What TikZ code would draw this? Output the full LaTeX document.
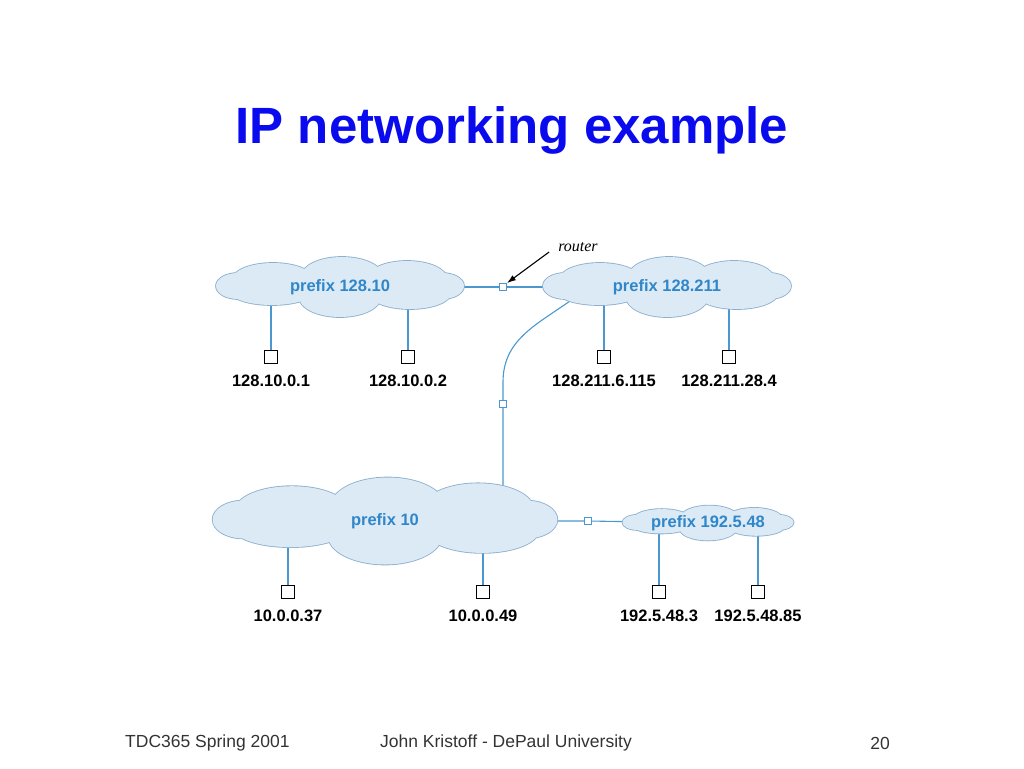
\documentclass[tikz,border=0pt]{standalone}
\usepackage{fontspec}
\setmainfont{Liberation Sans}
\newfontfamily\routerfont{Liberation Serif}
\usetikzlibrary{arrows.meta,positioning,backgrounds}
\definecolor{netFill}{HTML}{DCEAF6}
\definecolor{netEdge}{HTML}{8DAFCF}
\definecolor{netText}{HTML}{2F86C8}
\definecolor{linkBlue}{HTML}{4A98CF}
\definecolor{titleBlue}{HTML}{0A0AEE}
\definecolor{footInk}{HTML}{333333}
\pgfdeclarelayer{links}
\pgfsetlayers{links,background,main}
% puffs of one cloud, drawn 248 wide and 60 high round its centre
\newcommand{\puffs}{(-67,-7) ellipse [x radius=41, y radius=17]
  (2,-10) ellipse [x radius=41, y radius=20]
  (67,-8) ellipse [x radius=40, y radius=18]
  (-68,5) ellipse [x radius=41, y radius=13]
  (0,10) ellipse [x radius=41, y radius=20]
  (70,6) ellipse [x radius=41, y radius=16]
  (-102,-1) ellipse [x radius=22, y radius=13]
  (102,-1) ellipse [x radius=22, y radius=13]
  (0,0) ellipse [x radius=95, y radius=14]}
\newcommand{\netcloud}[3]{% node, x scale, y scale
  \begin{scope}[shift={(#1.center)}, xscale=#2, yscale=#3]
    \draw[draw=netEdge, line width=1.7pt] \puffs;
    \fill[netFill] \puffs;
  \end{scope}}

\begin{document}
\begin{tikzpicture}[
  x=1pt, y=-1pt,
  >=Latex,
  net/.style={inner sep=0pt, text=netText, font=\fontsize{16.5}{18}\selectfont\bfseries},
  host/.style={draw=black, fill=white, line width=.9pt, minimum size=13pt, inner sep=0pt},
  rtr/.style={draw=linkBlue, fill=white, line width=.8pt, minimum size=7pt, inner sep=0pt},
  addr/.style={inner sep=0pt, font=\fontsize{16.5}{18}\selectfont\bfseries},
  link/.style={draw=linkBlue, line width=1.1pt},
  foot/.style={inner sep=0pt, text=footInk, font=\fontsize{17.5}{19}\selectfont}
]
  \useasboundingbox (0,0) rectangle (1024,768);
  \node[text=titleBlue, font=\fontsize{51}{56}\selectfont\bfseries] (title) at (512,130) {IP networking example};

  % networks
  \node[net] (n12810) at (340,287) {prefix 128.10};
  \node[net] (n128211) at (667,287) {prefix 128.211};
  \node[net] (n10) at (385,521) {prefix 10};
  \node[net] (n192548) at (708,523) {prefix 192.5.48};
  \begin{pgfonlayer}{background}
    \netcloud{n12810}{1}{1}
    \netcloud{n128211}{1}{1}
    \netcloud{n10}{1.39}{1.45}
    \netcloud{n192548}{.69}{.58}
  \end{pgfonlayer}

  % routers
  \node[rtr] (r1) at (503,287) {};
  \node[rtr] (r2) at (503,404) {};
  \node[rtr] (r3) at (588,521) {};
  \coordinate (bjoin) at (570,301);
  \node[font=\routerfont\itshape\fontsize{16}{18}\selectfont, inner sep=1pt] (rtlbl) at (578,247) {router};
  \draw[-{Latex[length=9pt,width=6pt]}, line width=1.1pt] (rtlbl.west) ++(-8,5) -- (r1.north east);

  % hosts
  \node[host] (h1) at (271,357) {};
  \node[host] (h2) at (408,357) {};
  \node[host] (h3) at (604,357) {};
  \node[host] (h4) at (729,357) {};
  \node[host] (h5) at (288,592) {};
  \node[host] (h6) at (483,592) {};
  \node[host] (h7) at (659,592) {};
  \node[host] (h8) at (758,592) {};
  \node[addr, below=11pt of h1] (a1) {128.10.0.1};
  \node[addr, below=11pt of h2] (a2) {128.10.0.2};
  \node[addr, below=11pt of h3] (a3) {128.211.6.115};
  \node[addr, below=11pt of h4] (a4) {128.211.28.4};
  \node[addr, below=11pt of h5] (a5) {10.0.0.37};
  \node[addr, below=11pt of h6] (a6) {10.0.0.49};
  \node[addr, below=11pt of h7] (a7) {192.5.48.3};
  \node[addr, below=11pt of h8] (a8) {192.5.48.85};

  \begin{pgfonlayer}{links}
    \draw[link] (n12810.center) -- (r1) -- (n128211.center);
    \draw[link] (n10.center) -- (r3) -- (n192548.center);
    \draw[link] (n10.center -| r2) -- (r2) -- ++(0,-22) .. controls +(0,-42) and +(-34,24) .. (bjoin);
    \draw[link] (h1) -- (h1 |- n12810.center);
    \draw[link] (h2) -- (h2 |- n12810.center);
    \draw[link] (h3) -- (h3 |- n128211.center);
    \draw[link] (h4) -- (h4 |- n128211.center);
    \draw[link] (h5) -- (h5 |- n10.center);
    \draw[link] (h6) -- (h6 |- n10.center);
    \draw[link] (h7) -- (h7 |- n192548.center);
    \draw[link] (h8) -- (h8 |- n192548.center);
  \end{pgfonlayer}

  % footer
  \node[foot, anchor=west] (course) at (125,743) {TDC365 Spring 2001};
  \node[foot, anchor=west] (author) at (380,743) {John Kristoff - DePaul University};
  \node[foot, anchor=east] (page) at (890,743) {20};
\end{tikzpicture}
\end{document}
